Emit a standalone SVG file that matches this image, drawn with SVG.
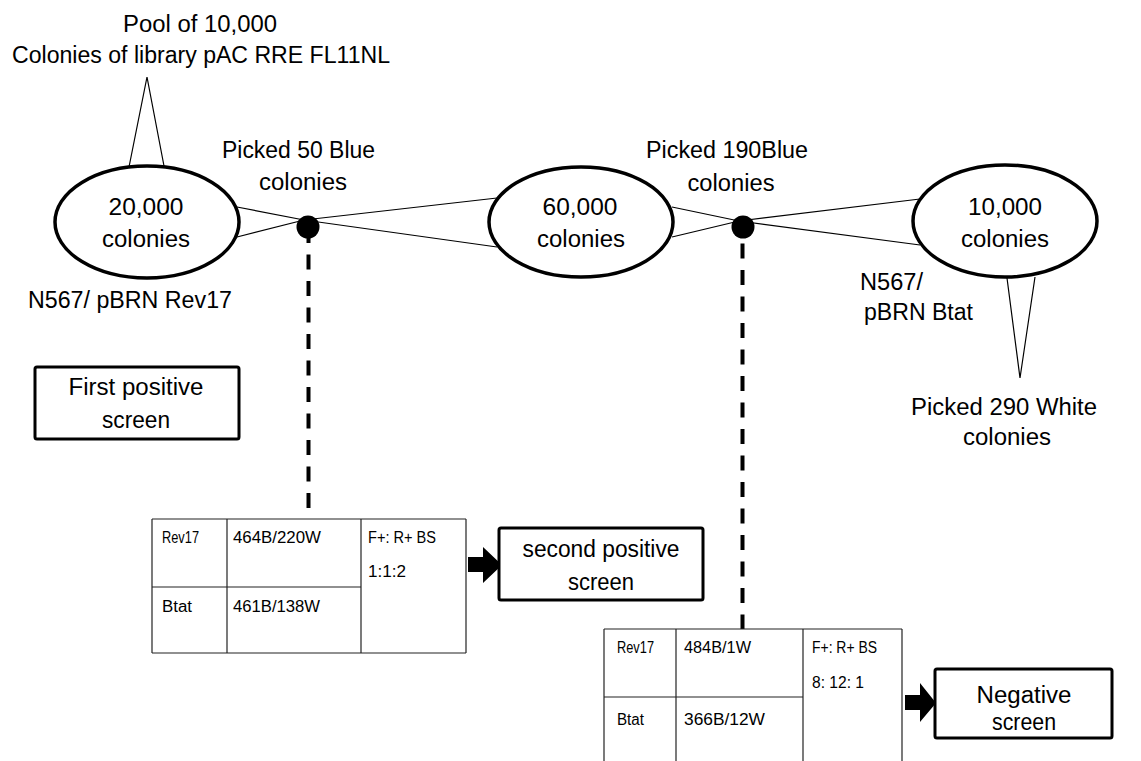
<svg xmlns="http://www.w3.org/2000/svg" width="1141" height="761" viewBox="0 0 1141 761">
<style>
text{font-family:"Liberation Sans",Arial,sans-serif;fill:#000}
.t{font-size:23.5px;text-anchor:middle}
.ts{font-size:16px}
.ell{fill:#fff;stroke:#000;stroke-width:3.5}
.thin{fill:none;stroke:#000;stroke-width:1.2}
.box{fill:#fff;stroke:#000;stroke-width:3}
.dash{fill:none;stroke:#000;stroke-width:4;stroke-dasharray:15 11.5}
.grid{fill:none;stroke:#222;stroke-width:1.2}
</style>
<rect width="1141" height="761" fill="#fff"/>
<g id="connectors">
<polyline class="thin" points="129,167 147,77 164,166"/>
<polyline class="thin" points="1007,278 1020,378 1035,277"/>
<line class="thin" x1="237" y1="207" x2="304" y2="220"/>
<line class="thin" x1="237" y1="237" x2="304" y2="220"/>
<line class="thin" x1="304" y1="220" x2="497" y2="198"/>
<line class="thin" x1="304" y1="220" x2="497" y2="247"/>
<line class="thin" x1="672" y1="207" x2="739" y2="221"/>
<line class="thin" x1="672" y1="237" x2="739" y2="221"/>
<line class="thin" x1="739" y1="221" x2="920" y2="199"/>
<line class="thin" x1="739" y1="221" x2="920" y2="245"/>
<line class="dash" x1="308.5" y1="228" x2="308.5" y2="519"/>
<line class="dash" x1="742.5" y1="217" x2="742.5" y2="629"/>
<polygon points="468,557 483,557 483,547 502,565 483,583 483,572 468,572" fill="#000"/>
<polygon points="905,695 920,695 920,683 936,703 920,722 920,710 905,710" fill="#000"/>
</g>
<g id="dot1"><circle cx="308" cy="227" r="11.5" fill="#000"/></g>
<g id="dot2"><circle cx="743" cy="227" r="11.5" fill="#000"/></g>
<g id="pool">
<text class="t" x="200" y="32" textLength="154" lengthAdjust="spacingAndGlyphs">Pool of 10,000</text>
<text class="t" x="201" y="63" textLength="378" lengthAdjust="spacingAndGlyphs">Colonies of library pAC RRE  FL11NL</text>
</g>
<g id="e1">
<ellipse class="ell" cx="147" cy="222" rx="92" ry="56"/>
<text class="t" x="146" y="215" textLength="75" lengthAdjust="spacingAndGlyphs">20,000</text>
<text class="t" x="146" y="247" textLength="88" lengthAdjust="spacingAndGlyphs">colonies</text>
</g>
<g id="e2">
<ellipse class="ell" cx="581" cy="222" rx="92" ry="55"/>
<text class="t" x="580" y="215" textLength="75" lengthAdjust="spacingAndGlyphs">60,000</text>
<text class="t" x="581" y="247" textLength="88" lengthAdjust="spacingAndGlyphs">colonies</text>
</g>
<g id="e3">
<ellipse class="ell" cx="1005" cy="221" rx="92" ry="56"/>
<text class="t" x="1005" y="215" textLength="74" lengthAdjust="spacingAndGlyphs">10,000</text>
<text class="t" x="1005" y="247" textLength="88" lengthAdjust="spacingAndGlyphs">colonies</text>
</g>
<g id="labels">
<text class="t" x="298.5" y="158" textLength="153" lengthAdjust="spacingAndGlyphs">Picked 50 Blue</text>
<text class="t" x="303" y="190" textLength="88" lengthAdjust="spacingAndGlyphs">colonies</text>
<text class="t" x="727" y="158" textLength="162" lengthAdjust="spacingAndGlyphs">Picked 190Blue</text>
<text class="t" x="731" y="191" textLength="87" lengthAdjust="spacingAndGlyphs">colonies</text>
<text class="t" x="130" y="308" textLength="204" lengthAdjust="spacingAndGlyphs">N567/ pBRN  Rev17</text>
<text x="860" y="290" style="font-size:23.5px" textLength="63" lengthAdjust="spacingAndGlyphs">N567/</text>
<text x="864" y="320" style="font-size:23.5px" textLength="109" lengthAdjust="spacingAndGlyphs">pBRN  Btat</text>
<text class="t" x="1004" y="415" textLength="186" lengthAdjust="spacingAndGlyphs">Picked 290 White</text>
<text class="t" x="1007" y="445" textLength="88" lengthAdjust="spacingAndGlyphs">colonies</text>
</g>
<g id="first-box">
<rect class="box" x="35" y="367" width="204" height="72" rx="2"/>
<text class="t" x="136" y="395" textLength="135" lengthAdjust="spacingAndGlyphs">First positive</text>
<text class="t" x="136" y="428" textLength="68" lengthAdjust="spacingAndGlyphs">screen</text>
</g>
<g id="table1">
<line class="grid" x1="152" y1="519" x2="466" y2="519"/>
<line class="grid" x1="152" y1="587" x2="361" y2="587"/>
<line class="grid" x1="152" y1="653" x2="466" y2="653"/>
<line class="grid" x1="152" y1="519" x2="152" y2="653"/>
<line class="grid" x1="227" y1="519" x2="227" y2="653"/>
<line class="grid" x1="361" y1="519" x2="361" y2="653"/>
<line class="grid" x1="466" y1="519" x2="466" y2="653"/>
<text class="ts" x="162" y="543" textLength="37" lengthAdjust="spacingAndGlyphs">Rev17</text>
<text class="ts" x="233" y="543" textLength="88" lengthAdjust="spacingAndGlyphs">464B/220W</text>
<text class="ts" x="368" y="543" textLength="68" lengthAdjust="spacingAndGlyphs">F+: R+ BS</text>
<text class="ts" x="368" y="577" textLength="38" lengthAdjust="spacingAndGlyphs">1:1:2</text>
<text class="ts" x="162" y="612" textLength="30" lengthAdjust="spacingAndGlyphs">Btat</text>
<text class="ts" x="233" y="612" textLength="87" lengthAdjust="spacingAndGlyphs">461B/138W</text>
</g>
<g id="second-box">
<rect class="box" x="499" y="528" width="204" height="72" rx="2"/>
<text class="t" x="601" y="557" textLength="157" lengthAdjust="spacingAndGlyphs">second positive</text>
<text class="t" x="601" y="590" textLength="66" lengthAdjust="spacingAndGlyphs">screen</text>
</g>
<g id="table2">
<line class="grid" x1="604" y1="629" x2="902" y2="629"/>
<line class="grid" x1="604" y1="697" x2="803" y2="697"/>
<line class="grid" x1="604" y1="629" x2="604" y2="761"/>
<line class="grid" x1="676" y1="629" x2="676" y2="761"/>
<line class="grid" x1="803" y1="629" x2="803" y2="761"/>
<line class="grid" x1="902" y1="629" x2="902" y2="761"/>
<text class="ts" x="617" y="653" textLength="37" lengthAdjust="spacingAndGlyphs">Rev17</text>
<text class="ts" x="684" y="653" textLength="67" lengthAdjust="spacingAndGlyphs">484B/1W</text>
<text class="ts" x="812" y="653" textLength="65" lengthAdjust="spacingAndGlyphs">F+: R+ BS</text>
<text class="ts" x="812" y="688" textLength="52" lengthAdjust="spacingAndGlyphs">8: 12: 1</text>
<text class="ts" x="617" y="725" textLength="27" lengthAdjust="spacingAndGlyphs">Btat</text>
<text class="ts" x="684" y="725" textLength="81" lengthAdjust="spacingAndGlyphs">366B/12W</text>
</g>
<g id="negative-box">
<rect class="box" x="935" y="669" width="177" height="69" rx="2"/>
<text class="t" x="1024" y="703" textLength="95" lengthAdjust="spacingAndGlyphs">Negative</text>
<text class="t" x="1024" y="730" textLength="64" lengthAdjust="spacingAndGlyphs">screen</text>
</g>
</svg>
